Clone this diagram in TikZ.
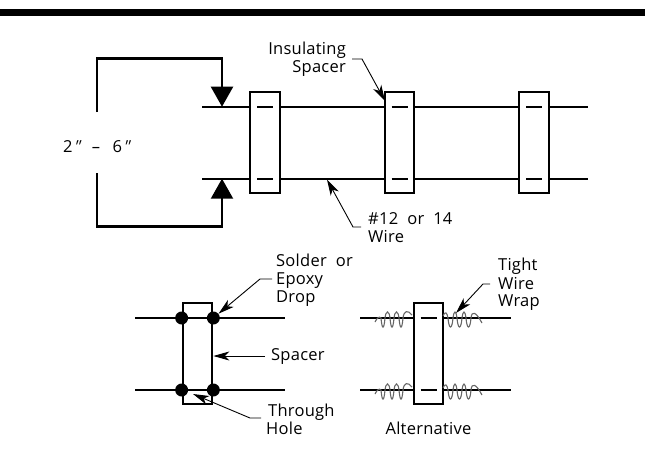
\documentclass[tikz,border=0pt]{standalone}
\usepackage{fontspec}
\setmainfont[LetterSpace=1.5]{Open Sans}
\newfontfamily\slantfont[FakeSlant=0.3]{Open Sans}
\usetikzlibrary{arrows.meta}
\tikzset{
  wire/.style={line width=2.2pt},
  spacerbox/.style={draw,line width=2.2pt,minimum width=29.5pt,minimum height=101pt,inner sep=0pt},
  holemark/.style={line width=2.2pt},
  dimline/.style={line width=2.2pt,-{Triangle[length=20pt,width=22pt]}},
  leader/.style={line width=0.9pt,-{Stealth[length=16pt,width=9pt,inset=4.5pt]}},
  lbl/.style={font=\fontsize{16.5}{18}\selectfont,inner sep=0pt},
  wrap/.style={line width=1.1pt,black!60},
  dropdot/.style={circle,fill=black,minimum size=13pt,inner sep=0pt}
}
\newcommand{\coilwrap}[1]{%
  \draw[wrap,shift={#1}] (0,4) .. controls (2,0) and (4,-2) .. (6,0)
    .. controls (7,12) and (9,12) .. (10,0) .. controls (11,-8) and (14,-8) .. (15,0)
    .. controls (16,12) and (18,12) .. (19,0) .. controls (20,-8) and (23,-8) .. (24,0)
    .. controls (25,12) and (27,12) .. (28,0) .. controls (29,-8) and (33,-8) .. (37,-3);}
\newcommand{\coilwrapb}[1]{%
  \draw[wrap,shift={#1}] (0,-2) .. controls (2,-7) and (4,-6) .. (5,0)
    .. controls (6,12) and (9,12) .. (10,0) .. controls (11,-8) and (13,-8) .. (14,0)
    .. controls (15,12) and (18,12) .. (19,0) .. controls (20,-8) and (22,-8) .. (23,0)
    .. controls (24,12) and (27,12) .. (28,0) .. controls (29,-8) and (33,-6) .. (39,5);}
\begin{document}
\begin{tikzpicture}[x=1pt,y=-1pt]
    \useasboundingbox (0,0) rectangle (649,453);

    % Top bar
    \fill[black] (0,8.5) rectangle (644.5,16);

    % Spacers of the top view
    \node[spacerbox] (spacerA) at (265,142.5) {};
    \node[spacerbox] (spacerB) at (399.5,142.5) {};
    \node[spacerbox] (spacerC) at (534,142.5) {};

    % Wires of the top view
    \coordinate (upStart) at (202,106.7);
    \coordinate (upEnd) at (587.5,106.7);
    \coordinate (loStart) at (202,178.7);
    \coordinate (loEnd) at (587.5,178.7);
    \draw[wire] (upStart) -- (upStart -| spacerA.west);
    \draw[wire] (upStart -| spacerA.east) -- (upStart -| spacerB.west);
    \draw[wire] (upStart -| spacerB.east) -- (upStart -| spacerC.west);
    \draw[wire] (upStart -| spacerC.east) -- (upEnd);
    \draw[wire] (loStart) -- (loStart -| spacerA.west);
    \draw[wire] (loStart -| spacerA.east) -- (loStart -| spacerB.west);
    \draw[wire] (loStart -| spacerB.east) -- (loStart -| spacerC.west);
    \draw[wire] (loStart -| spacerC.east) -- (loEnd);

    % Marks inside the spacers
    \foreach \s in {spacerA,spacerB,spacerC} {
      \draw[holemark] ([xshift=-8pt]upStart -| \s.center) -- ([xshift=8pt]upStart -| \s.center);
      \draw[holemark] ([xshift=-8pt]loStart -| \s.center) -- ([xshift=8pt]loStart -| \s.center);
    }

    % Dimension
    \node[lbl,anchor=base west] (dimTwo) at (63,152.7) {2{\slantfont\textquotedbl}};
    \node[lbl,anchor=base] (dimDash) at (96,152.7) {--};
    \node[lbl,anchor=base west] (dimSix) at (112.5,152.7) {6{\slantfont\textquotedbl}};
    \coordinate (dimUp) at (97,112);
    \coordinate (dimLo) at (97,173);
    \coordinate (tipUp) at (222,106.7);
    \coordinate (tipLo) at (222,178.7);
    \draw[dimline] (dimUp) |- (222,58.5) -- (tipUp);
    \draw[dimline] (dimLo) |- (222,226.5) -- (tipLo);

    % Labels of the top view
    \node[lbl,anchor=base east] (lblInsulating) at (346,54.5) {Insulating};
    \node[lbl,anchor=base east] (lblSpacerA) at (346,72.5) {Spacer};
    \node[lbl,anchor=base west] (lblGauge) at (368,224) {\#12\ \ or\ \ 14};
    \node[lbl,anchor=base west] (lblWire) at (368,242) {Wire};
    \coordinate (tipSpacer) at (385,101);
    \coordinate (tipWire) at (327,179.5);
    \draw[leader] (352,59) -- (362,59) -- (tipSpacer);
    \draw[leader] (361,227) -- (353,227) -- (tipWire);

    % Soldered detail
    \node[spacerbox] (spacerD) at (197.5,353.5) {};
    \coordinate (solUpStart) at (135,318);
    \coordinate (solUpEnd) at (285,318);
    \coordinate (solLoStart) at (135,390);
    \coordinate (solLoEnd) at (285,390);
    \draw[wire] (solUpStart) -- (solUpEnd);
    \draw[wire] (solLoStart) -- (solLoEnd);
    \node[dropdot] (dropA) at (solUpStart -| spacerD.west) {};
    \node[dropdot] (dropB) at (solUpStart -| spacerD.east) {};
    \node[dropdot] (dropC) at (solLoStart -| spacerD.west) {};
    \node[dropdot] (dropD) at (solLoStart -| spacerD.east) {};

    % Labels of the soldered detail
    \node[lbl,anchor=base west] (lblSolder) at (276,266) {Solder\ \ or};
    \node[lbl,anchor=base west] (lblEpoxy) at (276,284) {Epoxy};
    \node[lbl,anchor=base west] (lblDrop) at (276,302) {Drop};
    \node[lbl,anchor=base west] (lblSpacerB) at (271,360.5) {Spacer};
    \node[lbl,anchor=base west] (lblThrough) at (268,416.5) {Through};
    \node[lbl,anchor=base west] (lblHole) at (266,434) {Hole};
    \coordinate (endEpoxy) at (272,279);
    \coordinate (endSpacer) at (265,356);
    \coordinate (endHole) at (261,418);
    \draw[leader] (endEpoxy) -- (260,279) -- (dropB);
    \draw[leader] (endSpacer) -- (endSpacer -| spacerD.east);
    \draw[leader] (endHole) -- (250,418) -- (193,394);

    % Wrapped detail
    \node[spacerbox] (spacerE) at (428.5,353.5) {};
    \coordinate (altUpStart) at (360,318);
    \coordinate (altUpEnd) at (511,318);
    \coordinate (altLoStart) at (360,390);
    \coordinate (altLoEnd) at (511,390);
    \draw[wire] (altUpStart) -- (altUpStart -| spacerE.west);
    \draw[wire] (altUpStart -| spacerE.east) -- (altUpEnd);
    \draw[wire] (altLoStart) -- (altLoStart -| spacerE.west);
    \draw[wire] (altLoStart -| spacerE.east) -- (altLoEnd);
    \foreach \y in {318,390} {
      \draw[holemark] (420.5,\y) -- (436.5,\y);
      \coilwrap{(375,\y)}
      \coilwrapb{(443,\y)}
    }

    % Labels of the wrapped detail
    \node[lbl,anchor=base west] (lblTight) at (498,270.5) {Tight};
    \node[lbl,anchor=base west] (lblWireB) at (498,289) {Wire};
    \node[lbl,anchor=base west] (lblWrap) at (498,306.5) {Wrap};
    \node[lbl,anchor=base] (lblAlt) at (428.5,434.5) {Alternative};
    \coordinate (endWrap) at (490,284);
    \draw[leader] (endWrap) -- (483,284) -- (456,313);
\end{tikzpicture}
\end{document}
